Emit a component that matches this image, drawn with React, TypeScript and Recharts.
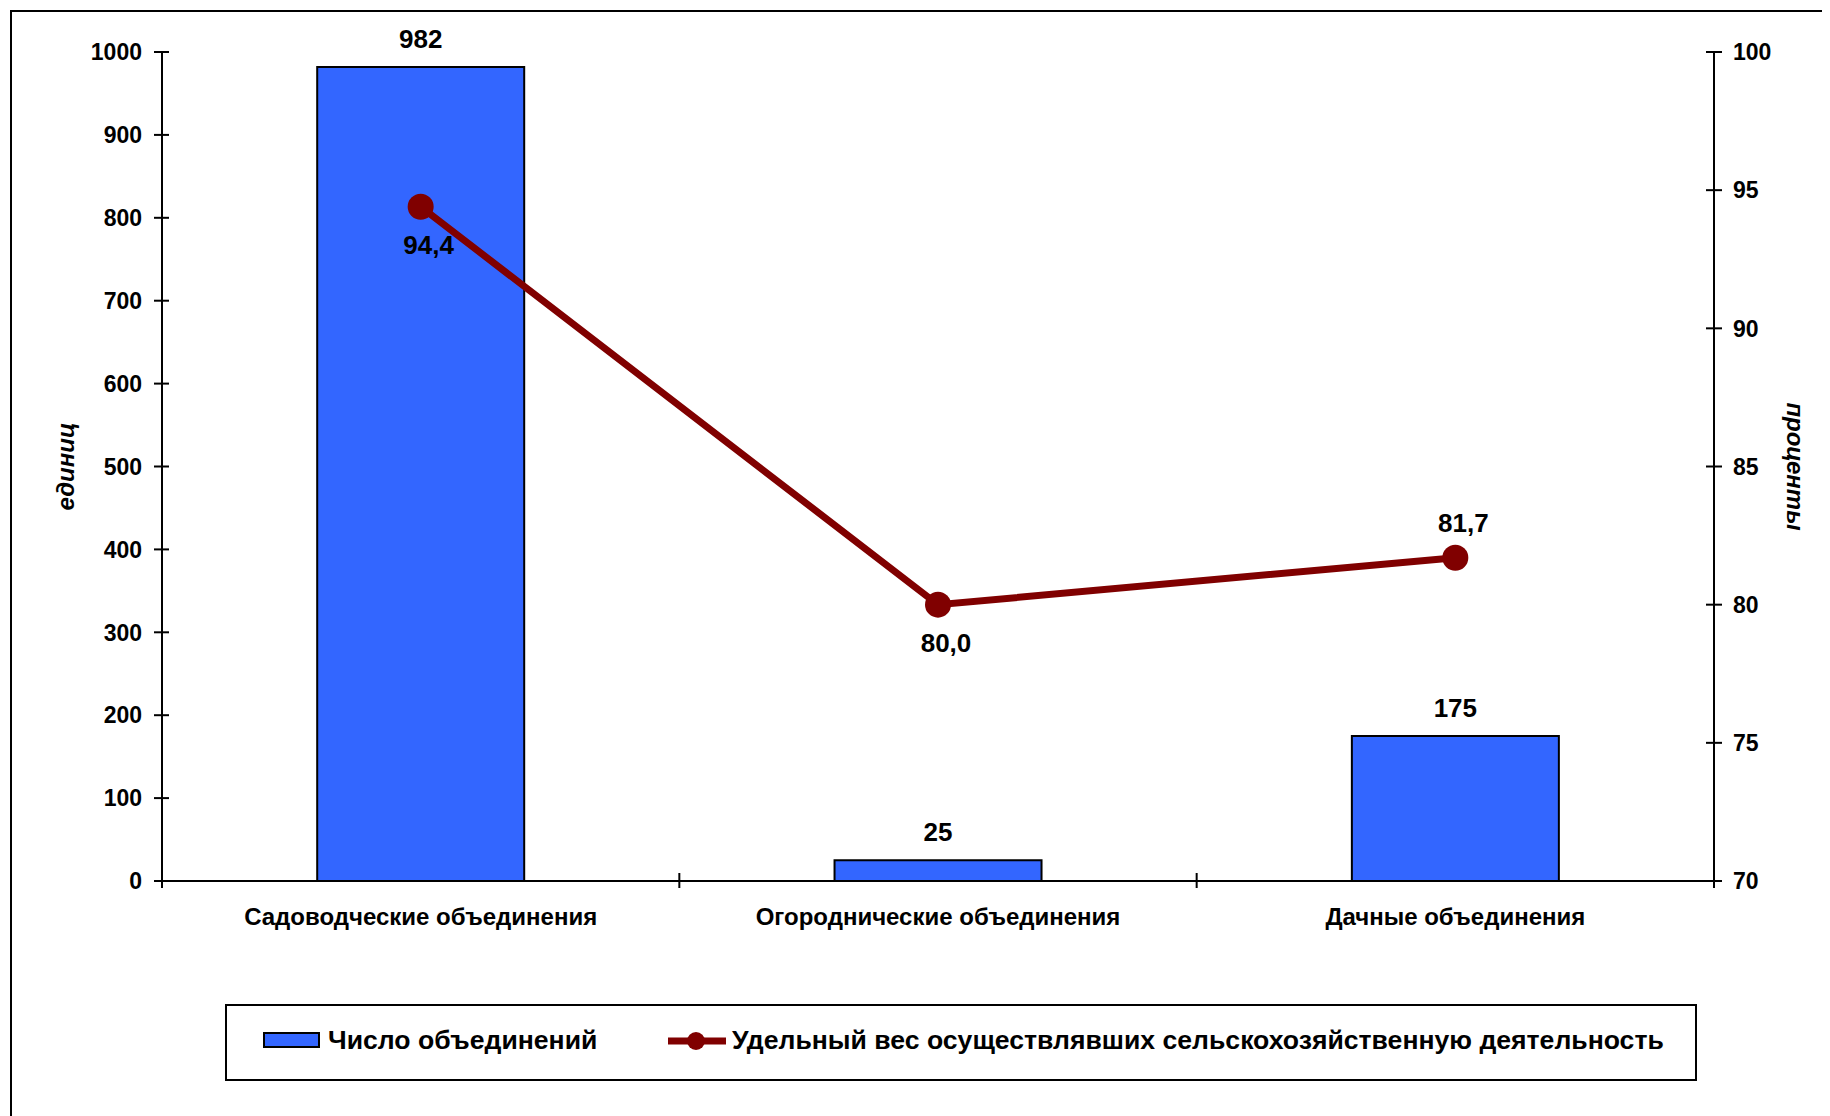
import React from "react";
import {
  ComposedChart,
  Bar,
  Line,
  XAxis,
  YAxis,
  LabelList,
  Legend,
} from "recharts";

const CATEGORIES = [
  "Садоводческие объединения",
  "Огороднические объединения",
  "Дачные объединения",
];
const COUNT_VALUES = [982, 25, 175];
const SHARE_VALUES = [94.4, 80.0, 81.7];
const LEFT_TICKS = [0, 100, 200, 300, 400, 500, 600, 700, 800, 900, 1000];
const RIGHT_TICKS = [70, 75, 80, 85, 90, 95, 100];
const BAR_NAME = "Число объединений";
const LINE_NAME = "Удельный вес осуществлявших сельскохозяйственную деятельность";
const LEFT_TITLE = "единиц";
const RIGHT_TITLE = "проценты";

const data = CATEGORIES.map((name, i) => ({
  name,
  count: COUNT_VALUES[i],
  share: SHARE_VALUES[i],
}));

const FONT = "'Liberation Sans', Arial, sans-serif";
const BLUE = "#3366FF";
const DARKRED = "#800000";
const W = 1822;
const H = 1108;
const TICK_SIZE = 8;
const LEFT_TM = 12;
const RIGHT_TM = 11;
const X_TM = 14;

const LeftTick = (props: any) => {
  const { x, y, payload } = props;
  const ax = x + TICK_SIZE + LEFT_TM;
  return (
    <g>
      <line x1={ax - 8} x2={ax + 7} y1={y} y2={y} stroke="#000" strokeWidth={2} />
      <text
        x={x}
        y={y}
        dy="0.36em"
        textAnchor="end"
        fontFamily={FONT}
        fontWeight="bold"
        fontSize={23}
        fill="#000"
      >
        {payload.value}
      </text>
    </g>
  );
};

const RightTick = (props: any) => {
  const { x, y, payload } = props;
  const ax = x - TICK_SIZE - RIGHT_TM;
  return (
    <g>
      <line x1={ax - 8} x2={ax + 8} y1={y} y2={y} stroke="#000" strokeWidth={2} />
      <text
        x={x}
        y={y}
        dy="0.36em"
        textAnchor="start"
        fontFamily={FONT}
        fontWeight="bold"
        fontSize={23}
        fill="#000"
      >
        {payload.value}
      </text>
    </g>
  );
};

const BottomTick = (props: any) => {
  const { x, y, payload, index } = props;
  const ay = y - TICK_SIZE - X_TM;
  const half = payload.offset || 0;
  const lines = [x - half];
  if (index === CATEGORIES.length - 1) lines.push(x + half);
  return (
    <g>
      {lines.map((lx, i) => (
        <line key={i} x1={lx} x2={lx} y1={ay - 8} y2={ay + 7} stroke="#000" strokeWidth={2} />
      ))}
      <text
        x={x}
        y={y + 22}
        textAnchor="middle"
        fontFamily={FONT}
        fontWeight="bold"
        fontSize={24}
        fill="#000"
      >
        {payload.value}
      </text>
    </g>
  );
};

const BarLabel = (props: any) => {
  const { x, y, width, value } = props;
  return (
    <text
      x={x + width / 2}
      y={y - 19}
      textAnchor="middle"
      fontFamily={FONT}
      fontWeight="bold"
      fontSize={26}
      fill="#000"
    >
      {value}
    </text>
  );
};

const LINE_LABEL_BELOW = [true, true, false];
const LineLabel = (props: any) => {
  const { x, y, value, index } = props;
  const below = LINE_LABEL_BELOW[index];
  const cy = below ? y + 38 : y - 35;
  return (
    <text
      x={x + 8}
      y={cy}
      dy="0.36em"
      textAnchor="middle"
      fontFamily={FONT}
      fontWeight="bold"
      fontSize={26}
      fill="#000"
    >
      {Number(value).toFixed(1).replace(".", ",")}
    </text>
  );
};

const LegendContent = () => (
  <div
    style={{
      position: "relative",
      width: 1472,
      height: 77,
      border: "2px solid #000",
      boxSizing: "border-box",
      background: "#fff",
      fontFamily: FONT,
      fontWeight: "bold",
      fontSize: 26.6,
      color: "#000",
    }}
  >
    <div
      style={{
        position: "absolute",
        left: 36,
        top: 26,
        width: 57,
        height: 16,
        background: BLUE,
        border: "2px solid #000",
        boxSizing: "border-box",
      }}
    />
    <div style={{ position: "absolute", left: 101, top: 20, lineHeight: "28px", whiteSpace: "nowrap" }}>
      {BAR_NAME}
    </div>
    <svg style={{ position: "absolute", left: 441, top: 22 }} width={58} height={26}>
      <line x1={0} x2={58} y1={13} y2={13} stroke={DARKRED} strokeWidth={7} />
      <circle cx={28} cy={13} r={9} fill={DARKRED} />
    </svg>
    <div style={{ position: "absolute", left: 505, top: 20, lineHeight: "28px", whiteSpace: "nowrap" }}>
      {LINE_NAME}
    </div>
  </div>
);

const LeftTitle = (props: any) => {
  const vb = props.viewBox || {};
  const cx = (vb.x || 0) + 57;
  const cy = (vb.y || 0) + (vb.height || 0) / 2;
  return (
    <text
      x={cx}
      y={cy}
      transform={`rotate(-90 ${cx} ${cy})`}
      textAnchor="middle"
      dy="0.36em"
      fontFamily={FONT}
      fontWeight="bold"
      fontStyle="italic"
      fontSize={24}
      fill="#000"
    >
      {LEFT_TITLE}
    </text>
  );
};

const RightTitle = (props: any) => {
  const vb = props.viewBox || {};
  const cx = (vb.x || 0) + 82;
  const cy = (vb.y || 0) + (vb.height || 0) / 2;
  return (
    <text
      x={cx}
      y={cy}
      transform={`rotate(90 ${cx} ${cy})`}
      textAnchor="middle"
      dy="0.36em"
      fontFamily={FONT}
      fontWeight="bold"
      fontStyle="italic"
      fontSize={24}
      fill="#000"
    >
      {RIGHT_TITLE}
    </text>
  );
};

export default function App() {
  return (
    <div style={{ position: "relative", width: W, height: H, overflow: "hidden", background: "#fff" }}>
      <div
        style={{
          position: "absolute",
          left: 2,
          top: 2,
          width: 1900,
          height: 1300,
          border: "2px solid #000",
          boxSizing: "border-box",
        }}
      />
      <ComposedChart
        width={W}
        height={H}
        data={data}
        margin={{ top: 44, right: 0, bottom: 175, left: 0 }}
        barCategoryGap="30%"
      >
        <XAxis
          dataKey="name"
          xAxisId="x"
          height={60}
          tickSize={TICK_SIZE}
          tickMargin={X_TM}
          tickLine={false}
          axisLine={{ stroke: "#000", strokeWidth: 2 }}
          tick={<BottomTick />}
          interval={0}
        />
        <YAxis
          yAxisId="left"
          orientation="left"
          width={154}
          domain={[0, 1000]}
          ticks={LEFT_TICKS}
          interval={0}
          tickSize={TICK_SIZE}
          tickMargin={LEFT_TM}
          tickLine={false}
          axisLine={{ stroke: "#000", strokeWidth: 2 }}
          tick={<LeftTick />}
          label={<LeftTitle />}
        />
        <YAxis
          yAxisId="right"
          orientation="right"
          width={116}
          domain={[70, 100]}
          ticks={RIGHT_TICKS}
          interval={0}
          tickSize={TICK_SIZE}
          tickMargin={RIGHT_TM}
          tickLine={false}
          axisLine={{ stroke: "#000", strokeWidth: 2 }}
          tick={<RightTick />}
          label={<RightTitle />}
        />
        <Bar
          xAxisId="x"
          yAxisId="left"
          dataKey="count"
          name={BAR_NAME}
          fill={BLUE}
          stroke="#000"
          strokeWidth={2}
          isAnimationActive={false}
        >
          <LabelList dataKey="count" content={<BarLabel />} />
        </Bar>
        <Line
          xAxisId="x"
          yAxisId="right"
          dataKey="share"
          name={LINE_NAME}
          type="linear"
          stroke={DARKRED}
          strokeWidth={7}
          dot={{ r: 13, fill: DARKRED, stroke: DARKRED, strokeWidth: 0 }}
          activeDot={false}
          isAnimationActive={false}
        >
          <LabelList dataKey="share" content={<LineLabel />} />
        </Line>
        <Legend
          layout="horizontal"
          verticalAlign="middle"
          align="center"
          content={<LegendContent />}
          wrapperStyle={{ position: "absolute", left: 217, top: 996, width: 1472, height: 77 }}
        />
      </ComposedChart>
    </div>
  );
}
